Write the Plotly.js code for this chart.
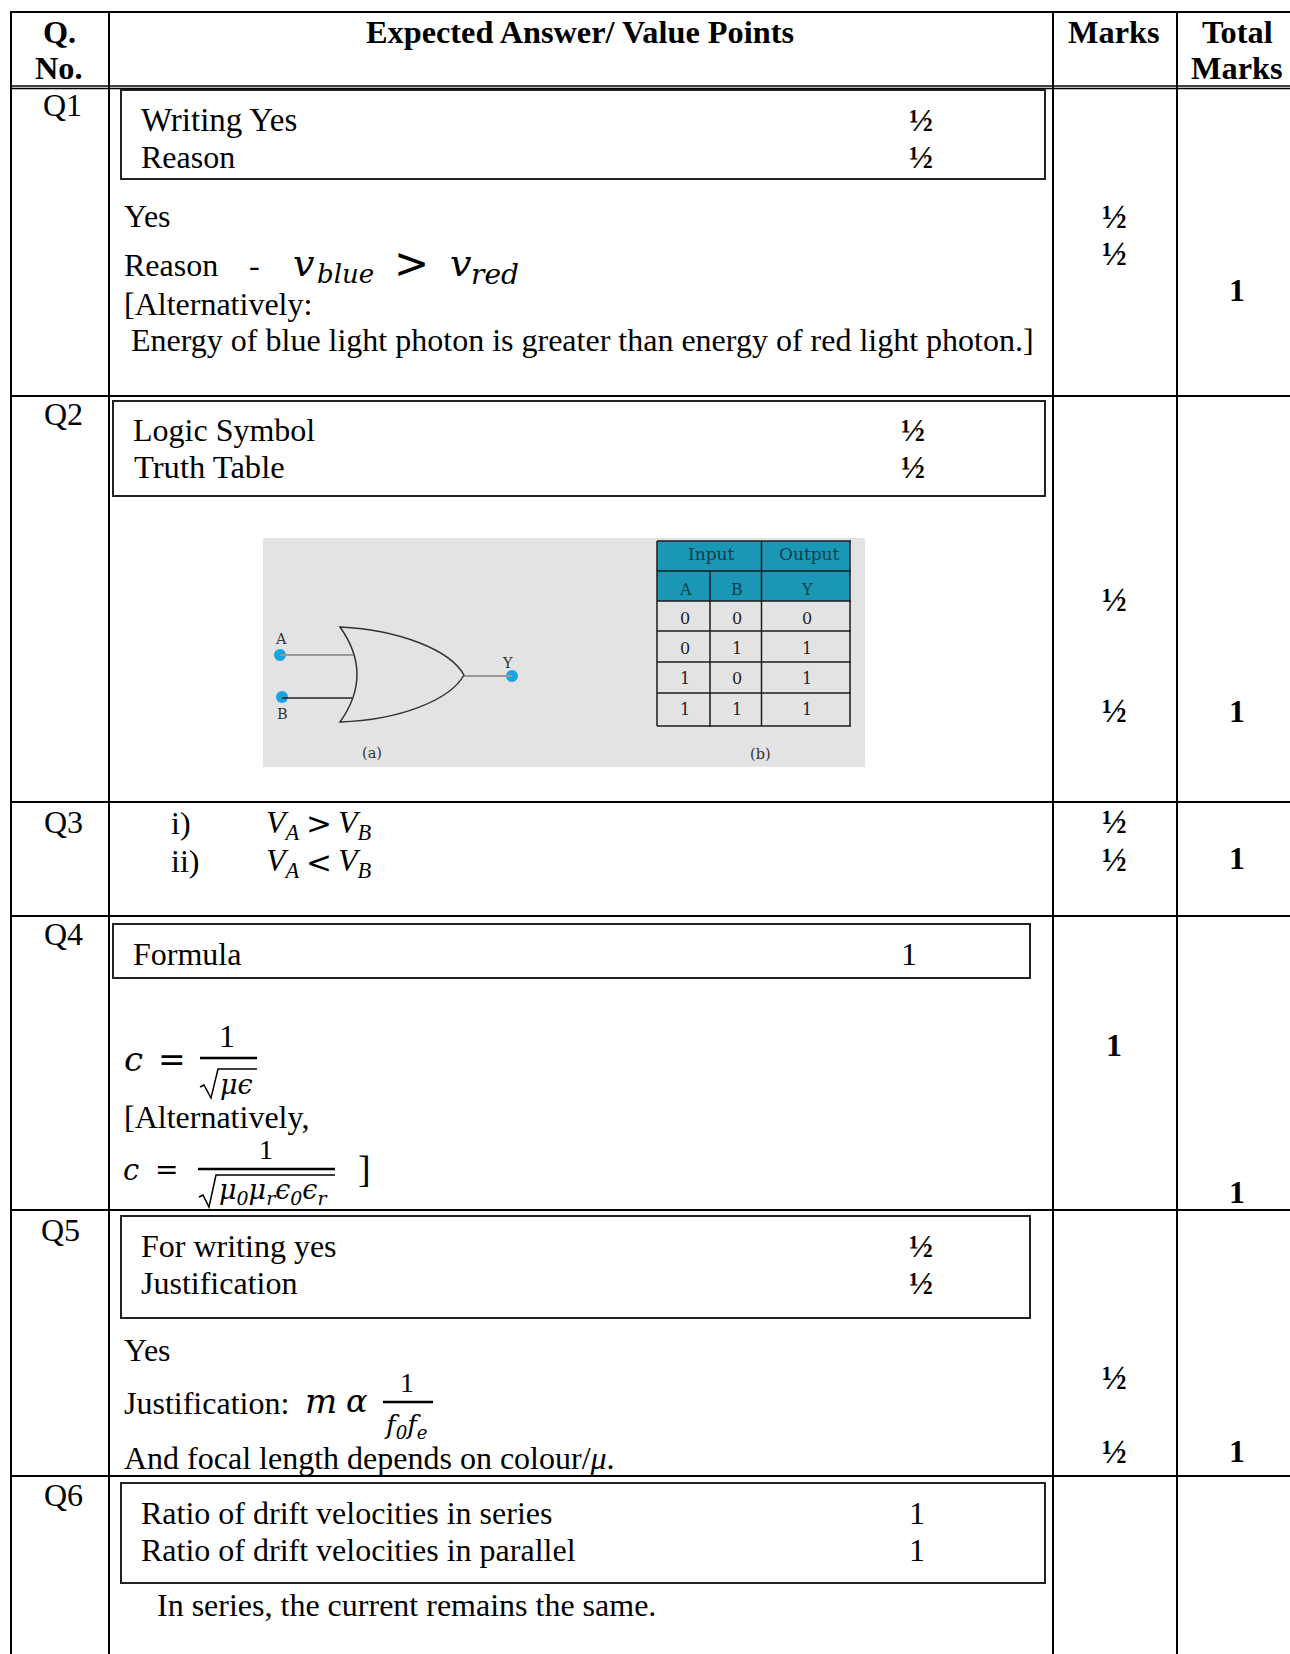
<!DOCTYPE html>
<html><head><meta charset="utf-8">
<script src="https://cdn.plot.ly/plotly-3.0.1.min.js"></script>
<style>html,body{margin:0;padding:0;background:#fff;overflow:hidden}#c{width:1290px;height:1654px}</style>
</head><body><div id="c"></div>
<script>
// Bold header / total cells
const boldTexts=['Q.','No.','Expected Answer/ Value Points','Marks','Total','Marks','½','½','1','½','½','1','½','½','1','1','1','½','½','1'];
const boldX=[59,59,580,1114,1237,1237,1114,1114,1237,1114,1114,1237,1114,1114,1237,1114,1237,1114,1114,1237];
const boldY=[32,68,32,32,32,68,217,254,290,600,711,711,822,860,858,1045,1192,1378,1452,1451];
// Question labels
const qTexts=['Q1','Q2','Q3','Q4','Q5','Q6'];
const qX=[62,63,63,63,60,63];
const qY=[105,414,822,934,1230,1495];
// Left aligned answer text
const bodyTexts=['Writing Yes','Reason','Yes','Reason','[Alternatively:','Energy of blue light photon is greater than energy of red light photon.]',
 'Logic Symbol','Truth Table','i)','ii)','Formula','[Alternatively,','For writing yes','Justification','Yes','Justification:','And focal length depends on colour/<i>μ</i>.',
 'Ratio of drift velocities in series','Ratio of drift velocities in parallel','In series, the current remains the same.'];
const bodyX=[140,140,122.5,122.5,122.5,130,132,133,170,170,132,122.5,140,140,122.5,122.5,122.5,140,140,156];
const bodyY=[119.5,156.5,216,264.5,303.5,339.5,429.5,466.5,822.5,860.5,953.5,1116.5,1245.5,1282.5,1349.5,1402.5,1457.5,1512.5,1549.5,1604.5];
const bodySizes=[33,32,32,32,32,32,32,32.6,32,32,32,32,32,32,32,32,32,32,32,32];
// Mark fractions inside the rubric boxes
const boxMarks=['½','½','½','½','1','½','½','1','1'];
const boxMarkX=[921,921,913,913,909,921,921,917,917];
const boxMarkY=[120,157,430,467,953.5,1246,1283,1512.5,1549.5];
// Math pieces set in a wide serif
const mathTexts=['v','blue','v','red','c','c','μϵ','μ<sub>0</sub>μ<sub>r</sub>ϵ<sub>0</sub>ϵ<sub>r</sub>','m','α','f<sub>0</sub>f<sub>e</sub>'];
const mathX=[292,316,449,470,123,122,219,218,304,345,383];
const mathY=[263,274,263,274,1059,1170,1084,1191,1401,1401,1426];
const mathSizes=[38,26,38,28,34,29,27,27,34,32,26];
// Voltages in the narrow serif
const voltTexts=['V<sub>A</sub>','V<sub>B</sub>','V<sub>A</sub>','V<sub>B</sub>'];
const voltX=[265,337,265,337];
const voltY=[824,824,862,862];
// Operators
const opTexts=['>','>','<','=','='];
const opX=[411,319,319,172,166];
const opY=[263,823,862,1059,1169];
const opSizes=[42,31,31,33,28];
// Plain centred pieces
const plainTexts=['-','1','1','1',']'];
const plainX=[254,227,266,407,364];
const plainY=[264.5,1036,1149,1382,1169];
const plainSizes=[32,32,28,28,38];
// Truth table
const ttHead=['Input','Output','A','B','Y'];
const ttHeadX=[711,809,685,737,807];
const ttHeadY=[554,554,589,589,589];
const ttA=['0','0','1','1'];
const ttB=['0','1','0','1'];
const ttY=['0','1','1','1'];
const ttColX=[685,737,807];
const ttRowY=[618,648,678,709];
const gateLabels=['A','B','Y','(a)','(b)'];
const gateLabelX=[281,282,507,372,760];
const gateLabelY=[639,714,663,753,754];
const dotX=[280,282,512];
const dotY=[655,697,676];

const serif='"Liberation Serif","Times New Roman",serif';
const wide='"DejaVu Serif",serif';
function ann(text,x,y,size,opt){opt=opt||{};return {text:text,x:x,y:y,xref:'x',yref:'y',showarrow:false,
 xanchor:opt.anchor||'left',yanchor:'middle',align:opt.anchor==='center'?'center':'left',borderpad:0,
 font:{family:opt.family||serif,size:size,color:opt.color||'#000',weight:opt.weight||'normal',style:opt.style||'normal'}};}
let annotations=[];
boldTexts.forEach((t,i)=>annotations.push(ann(t,boldX[i],boldY[i],t==='½'?33:(t==='1'?32:32.3),{anchor:'center',weight:'bold'})));
qTexts.forEach((t,i)=>annotations.push(ann(t,qX[i],qY[i],32,{anchor:'center'})));
bodyTexts.forEach((t,i)=>annotations.push(ann(t,bodyX[i],bodyY[i],bodySizes[i])));
boxMarks.forEach((t,i)=>annotations.push(ann(t,boxMarkX[i],boxMarkY[i],32,{anchor:'center',weight:t==='½'?'bold':'normal'})));
mathTexts.forEach((t,i)=>annotations.push(ann(t,mathX[i],mathY[i],mathSizes[i],{style:'italic',family:wide})));
voltTexts.forEach((t,i)=>annotations.push(ann(t,voltX[i],voltY[i],32,{style:'italic'})));
opTexts.forEach((t,i)=>annotations.push(ann(t,opX[i],opY[i],opSizes[i],{anchor:'center',family:'"DejaVu Sans",sans-serif'})));
plainTexts.forEach((t,i)=>annotations.push(ann(t,plainX[i],plainY[i],plainSizes[i],{anchor:'center'})));
ttHead.forEach((t,i)=>annotations.push(ann(t,ttHeadX[i],ttHeadY[i],i<2?17:16,{anchor:'center',color:'#0f3f4d',family:wide})));
[ttA,ttB,ttY].forEach((col,c)=>col.forEach((t,r)=>annotations.push(ann(t,ttColX[c],ttRowY[r],16,{anchor:'center',color:'#222',family:wide}))));
gateLabels.forEach((t,i)=>annotations.push(ann(t,gateLabelX[i],gateLabelY[i],14.5,{anchor:'center',color:'#333',family:wide})));

function line(x0,y0,x1,y1,w,c){return {type:'line',x0,y0,x1,y1,xref:'x',yref:'y',layer:'above',line:{color:c||'#000',width:w||2}};}
function rect(x0,y0,x1,y1,w,c,f,layer){return {type:'rect',x0,y0,x1,y1,xref:'x',yref:'y',layer:layer||'below',fillcolor:f||'rgba(0,0,0,0)',line:{color:c||'#000',width:w===undefined?2:w}};}
function path(p,w,c,f){return {type:'path',path:p,xref:'x',yref:'y',layer:'above',fillcolor:f||'rgba(0,0,0,0)',line:{color:c||'#000',width:w}};}
let shapes=[];
// grid
const vGrid=[11,109,1053,1177];
const hGrid=[12,86,88.5,396,802,916,1210,1476];
vGrid.forEach(x=>shapes.push(line(x,11,x,1654,2)));
hGrid.forEach((y,i)=>shapes.push(line(11,y,1290,y,i===1||i===2?1.5:2)));
// rubric boxes
[[121,90,1045,179],[113,401,1045,496],[113,924,1030,978],[121,1216,1030,1318],[121,1483,1045,1583]]
 .forEach(b=>shapes.push(rect(b[0],b[1],b[2],b[3],2,'#222')));
// figure background
shapes.push(rect(263,538,865,767,0,'rgba(0,0,0,0)','#e3e3e3'));
// truth table
shapes.push(rect(657,541,850,601,0,'rgba(0,0,0,0)','#1a97b5'));
[541,571,601,631,662,693,726].forEach(y=>shapes.push(line(657,y,851,y,1.5,'#1c1c1c')));
shapes.push(line(657,541,657,726,1.5,'#1c1c1c'),line(710,571,710,727,1.5,'#1c1c1c'),line(761.5,541,761.5,726,1.5,'#1c1c1c'),line(850,541,850,726,1.5,'#1c1c1c'));
// OR gate
shapes.push(line(280,655,353,655,2,'#999'),line(282,698,352,698,1.5,'#222'),line(464,676,512,676,2,'#999'));
shapes.push(path('M340 627 C400 630,450 650,464 675 C450 700,400 720,340 722 Q374 674.5,340 627 Z',1.5,'#333','#e3e3e3'));
// math rules
shapes.push(line(200,1058,257,1058,2.5),line(198,1169,335,1169,2.5),line(383,1402,433,1402,2.5));
shapes.push(path('M200 1087 L204 1085 L211 1098 L218 1069 L257 1069',1.5,'#000'));
shapes.push(path('M199 1197 L203 1195 L209 1207 L216 1175 L335 1175',1.5,'#000'));

const dots={type:'scatter',mode:'markers',x:dotX,y:dotY,marker:{size:12,color:'#18a6e0'},hoverinfo:'skip',showlegend:false};
Plotly.newPlot('c',[dots],{width:1290,height:1654,margin:{l:0,r:0,t:0,b:0},paper_bgcolor:'#fff',plot_bgcolor:'#fff',showlegend:false,
 xaxis:{range:[0,1290],visible:false,fixedrange:true},yaxis:{range:[1654,0],visible:false,fixedrange:true},
 annotations:annotations,shapes:shapes},{displayModeBar:false,staticPlot:true});
</script></body></html>
